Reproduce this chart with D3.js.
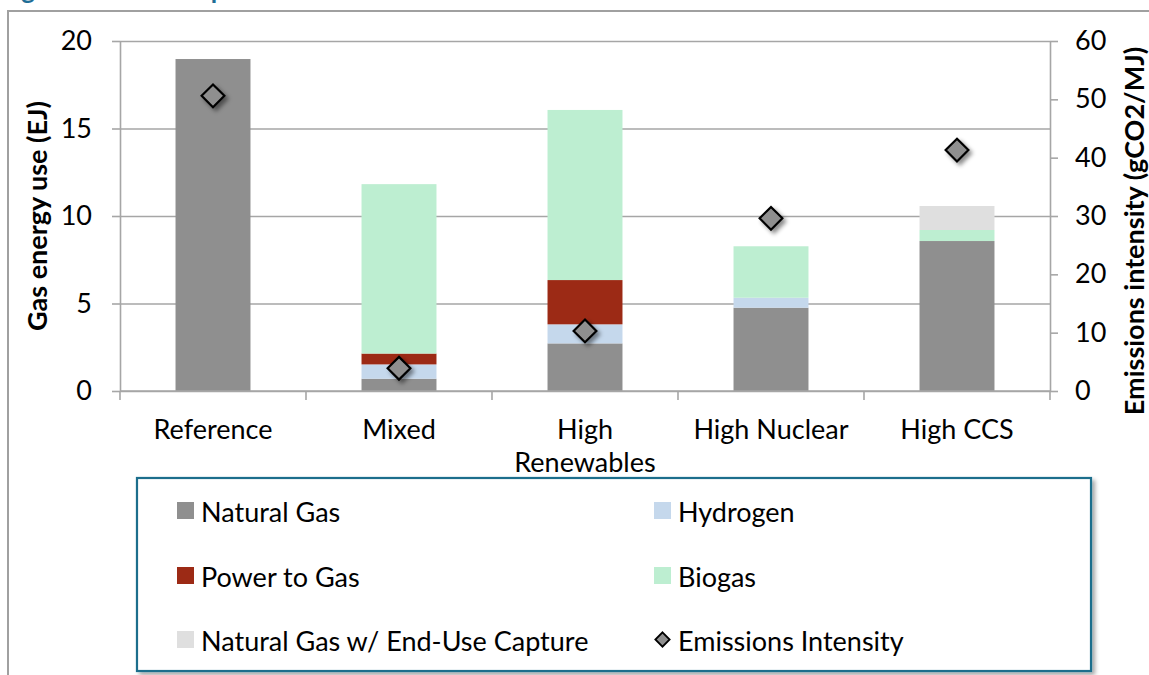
<!DOCTYPE html>
<html>
<head>
<meta charset="utf-8">
<script src="https://cdn.jsdelivr.net/npm/d3@7"></script>
<style>
  html, body { margin: 0; padding: 0; background: #fff; overflow: hidden; }
  svg { display: block; font-family: Lato, "Open Sans", sans-serif; }
</style>
</head>
<body>
<svg id="chart" width="1149" height="675"></svg>
<script>
// ---- data ----
const categories = ["Reference", "Mixed", "High Renewables", "High Nuclear", "High CCS"];
const naturalGas  = [18.97, 0.70, 2.72, 4.76, 8.57];
const hydrogen    = [0.00, 0.82, 1.09, 0.57, 0.00];
const powerToGas  = [0.00, 0.62, 2.53, 0.00, 0.00];
const biogas      = [0.00, 9.68, 9.72, 2.94, 0.63];
const endUseCapture = [0.00, 0.00, 0.00, 0.00, 1.37];
const emissionsIntensity = [50.6, 3.9, 10.3, 29.6, 41.3];
const leftTicks  = [0, 5, 10, 15, 20];
const rightTicks = [0, 10, 20, 30, 40, 50, 60];
const seriesNames = ["Natural Gas", "Hydrogen", "Power to Gas", "Biogas", "Natural Gas w/ End-Use Capture"];
const seriesColors = ["#8f8f8f", "#c5d8ec", "#9c2a15", "#bdeed1", "#dfdfdf"];
const lineName = "Emissions Intensity";
const caption = "Figure 5: Gas Composition";

(function () {
// ---- setup ----
const svg = d3.select("#chart");
const W = 1149, H = 675;
const pL = 120, pR = 1050, pT = 41, pB = 391;
const gridColor = "#a6a6a6";
const fontSize = 27;

const defs = svg.append("defs");
const f1 = defs.append("filter").attr("id", "shadow").attr("x", "-50%").attr("y", "-50%").attr("width", "200%").attr("height", "200%");
f1.append("feDropShadow").attr("dx", 3).attr("dy", 3).attr("stdDeviation", 2.2).attr("flood-color", "#000").attr("flood-opacity", 0.45);
const f2 = defs.append("filter").attr("id", "boxshadow").attr("x", "-5%").attr("y", "-5%").attr("width", "110%").attr("height", "115%");
f2.append("feDropShadow").attr("dx", 3).attr("dy", 3).attr("stdDeviation", 2).attr("flood-color", "#000").attr("flood-opacity", 0.35);

// caption (cut off at top, only descenders visible) and outer frame
svg.append("text").attr("x", 0).attr("y", -1).attr("fill", "#1f6e96")
  .attr("font-weight", "bold").attr("font-size", 26)
  .text(caption);
svg.append("rect").attr("x", 8).attr("y", 11).attr("width", W + 20).attr("height", H + 20)
  .attr("fill", "none").attr("stroke", "#a0a0a0").attr("stroke-width", 2);

// scales
const x = d3.scaleBand().domain(categories).range([pL, pR]).paddingInner(0.597).paddingOuter(0.2985);
const y = d3.scaleLinear().domain([0, 20]).range([pB, pT]);
const y2 = d3.scaleLinear().domain([0, 60]).range([pB, pT]);

// gridlines
const grid = svg.append("g").attr("transform", `translate(${pL},0)`)
  .call(d3.axisLeft(y).tickValues(leftTicks).tickSize(-(pR - pL)).tickFormat(""));
grid.select(".domain").remove();
grid.selectAll("line").attr("stroke", gridColor).attr("stroke-width", 1.6);

// left axis
const ax = svg.append("g").attr("transform", `translate(${pL},0)`)
  .call(d3.axisLeft(y).tickValues(leftTicks).tickSize(8).tickSizeOuter(0).tickPadding(20));
ax.select(".domain").attr("stroke", gridColor).attr("stroke-width", 1.6);
ax.selectAll("line").attr("stroke", gridColor).attr("stroke-width", 1.6);
ax.selectAll("text").attr("font-size", fontSize).attr("font-family", "Lato").attr("fill", "#000");

// right axis
const ax2 = svg.append("g").attr("transform", `translate(${pR},0)`)
  .call(d3.axisRight(y2).tickValues(rightTicks).tickSize(8).tickSizeOuter(0).tickPadding(17));
ax2.select(".domain").attr("stroke", gridColor).attr("stroke-width", 1.6);
ax2.selectAll("line").attr("stroke", gridColor).attr("stroke-width", 1.6);
ax2.selectAll("text").attr("font-size", fontSize).attr("font-family", "Lato").attr("fill", "#000");

// stacked bars
const seriesData = [naturalGas, hydrogen, powerToGas, biogas, endUseCapture];
const rows = categories.map((c, i) => {
  const r = { cat: c };
  seriesNames.forEach((s, k) => r[s] = seriesData[k][i]);
  return r;
});
const stack = d3.stack().keys(seriesNames)(rows);
const barG = svg.append("g");
stack.forEach((layer, k) => {
  barG.append("g").attr("fill", seriesColors[k])
    .selectAll("rect").data(layer).join("rect")
    .attr("x", d => x(d.data.cat))
    .attr("width", x.bandwidth())
    .attr("y", d => y(d[1]))
    .attr("height", d => Math.max(0, y(d[0]) - y(d[1])));
});

// x axis line and category ticks
svg.append("line").attr("x1", pL).attr("x2", pR).attr("y1", pB).attr("y2", pB)
  .attr("stroke", gridColor).attr("stroke-width", 1.6);
const step = x.step();
const bounds = categories.map(c => x(c) - step * x.paddingInner() / 2).concat([pR]);
bounds[0] = pL;
svg.append("g").selectAll("line").data(bounds).join("line")
  .attr("x1", d => d).attr("x2", d => d).attr("y1", pB).attr("y2", pB + 9)
  .attr("stroke", gridColor).attr("stroke-width", 1.6);

// category labels with wrapping
const labG = svg.append("g").attr("font-size", fontSize).attr("fill", "#000").attr("text-anchor", "middle");
categories.forEach(c => {
  const t = labG.append("text").attr("x", x(c) + x.bandwidth() / 2).attr("y", 439);
  t.text(c);
  if (t.node().getComputedTextLength() > step - 6) {
    const words = c.split(" ");
    t.text(null);
    words.forEach((w, i) => t.append("tspan").attr("x", x(c) + x.bandwidth() / 2).attr("dy", i ? 33 : 0).text(w));
  }
});

// emissions diamonds
const diamond = d3.symbol().type(d3.symbolDiamond2).size(330);
svg.append("g").selectAll("path").data(emissionsIntensity).join("path")
  .attr("d", diamond)
  .attr("transform", (d, i) => `translate(${x(categories[i]) + x.bandwidth() / 2},${y2(d)})`)
  .attr("fill", "#8f8f8f").attr("stroke", "#000").attr("stroke-width", 2.2)
  .attr("filter", "url(#shadow)");

// axis titles
svg.append("text").attr("transform", `translate(47,${(pT + pB) / 2}) rotate(-90)`)
  .attr("text-anchor", "middle").attr("font-weight", "bold").attr("font-size", fontSize).text("Gas energy use (EJ)");
svg.append("text").attr("transform", `translate(1144,231) rotate(-90)`)
  .attr("text-anchor", "middle").attr("font-weight", "bold").attr("font-size", fontSize).text("Emissions intensity (gCO2/MJ)");

// legend
const lg = svg.append("g");
lg.append("rect").attr("x", 137).attr("y", 478).attr("width", 954).attr("height", 193)
  .attr("fill", "#fff").attr("stroke", "#1f6e8c").attr("stroke-width", 2.2).attr("filter", "url(#boxshadow)");
const legendItems = [
  { name: seriesNames[0], color: seriesColors[0], col: 0, row: 0 },
  { name: seriesNames[1], color: seriesColors[1], col: 1, row: 0 },
  { name: seriesNames[2], color: seriesColors[2], col: 0, row: 1 },
  { name: seriesNames[3], color: seriesColors[3], col: 1, row: 1 },
  { name: seriesNames[4], color: seriesColors[4], col: 0, row: 2 },
  { name: lineName, diamond: true, col: 1, row: 2 }
];
const colX = [177, 654], rowY = [502, 567, 631];
legendItems.forEach(it => {
  const gx = colX[it.col], gy = rowY[it.row];
  if (it.diamond) {
    lg.append("path").attr("d", d3.symbol().type(d3.symbolDiamond2).size(130))
      .attr("transform", `translate(${gx + 8.5},${gy + 8.5})`)
      .attr("fill", "#8f8f8f").attr("stroke", "#000").attr("stroke-width", 1.8);
  } else {
    lg.append("rect").attr("x", gx).attr("y", gy).attr("width", 17).attr("height", 17).attr("fill", it.color);
  }
  lg.append("text").attr("x", gx + 24).attr("y", gy + 20).attr("font-size", fontSize).attr("fill", "#000").text(it.name);
});
})();
</script>
</body>
</html>
